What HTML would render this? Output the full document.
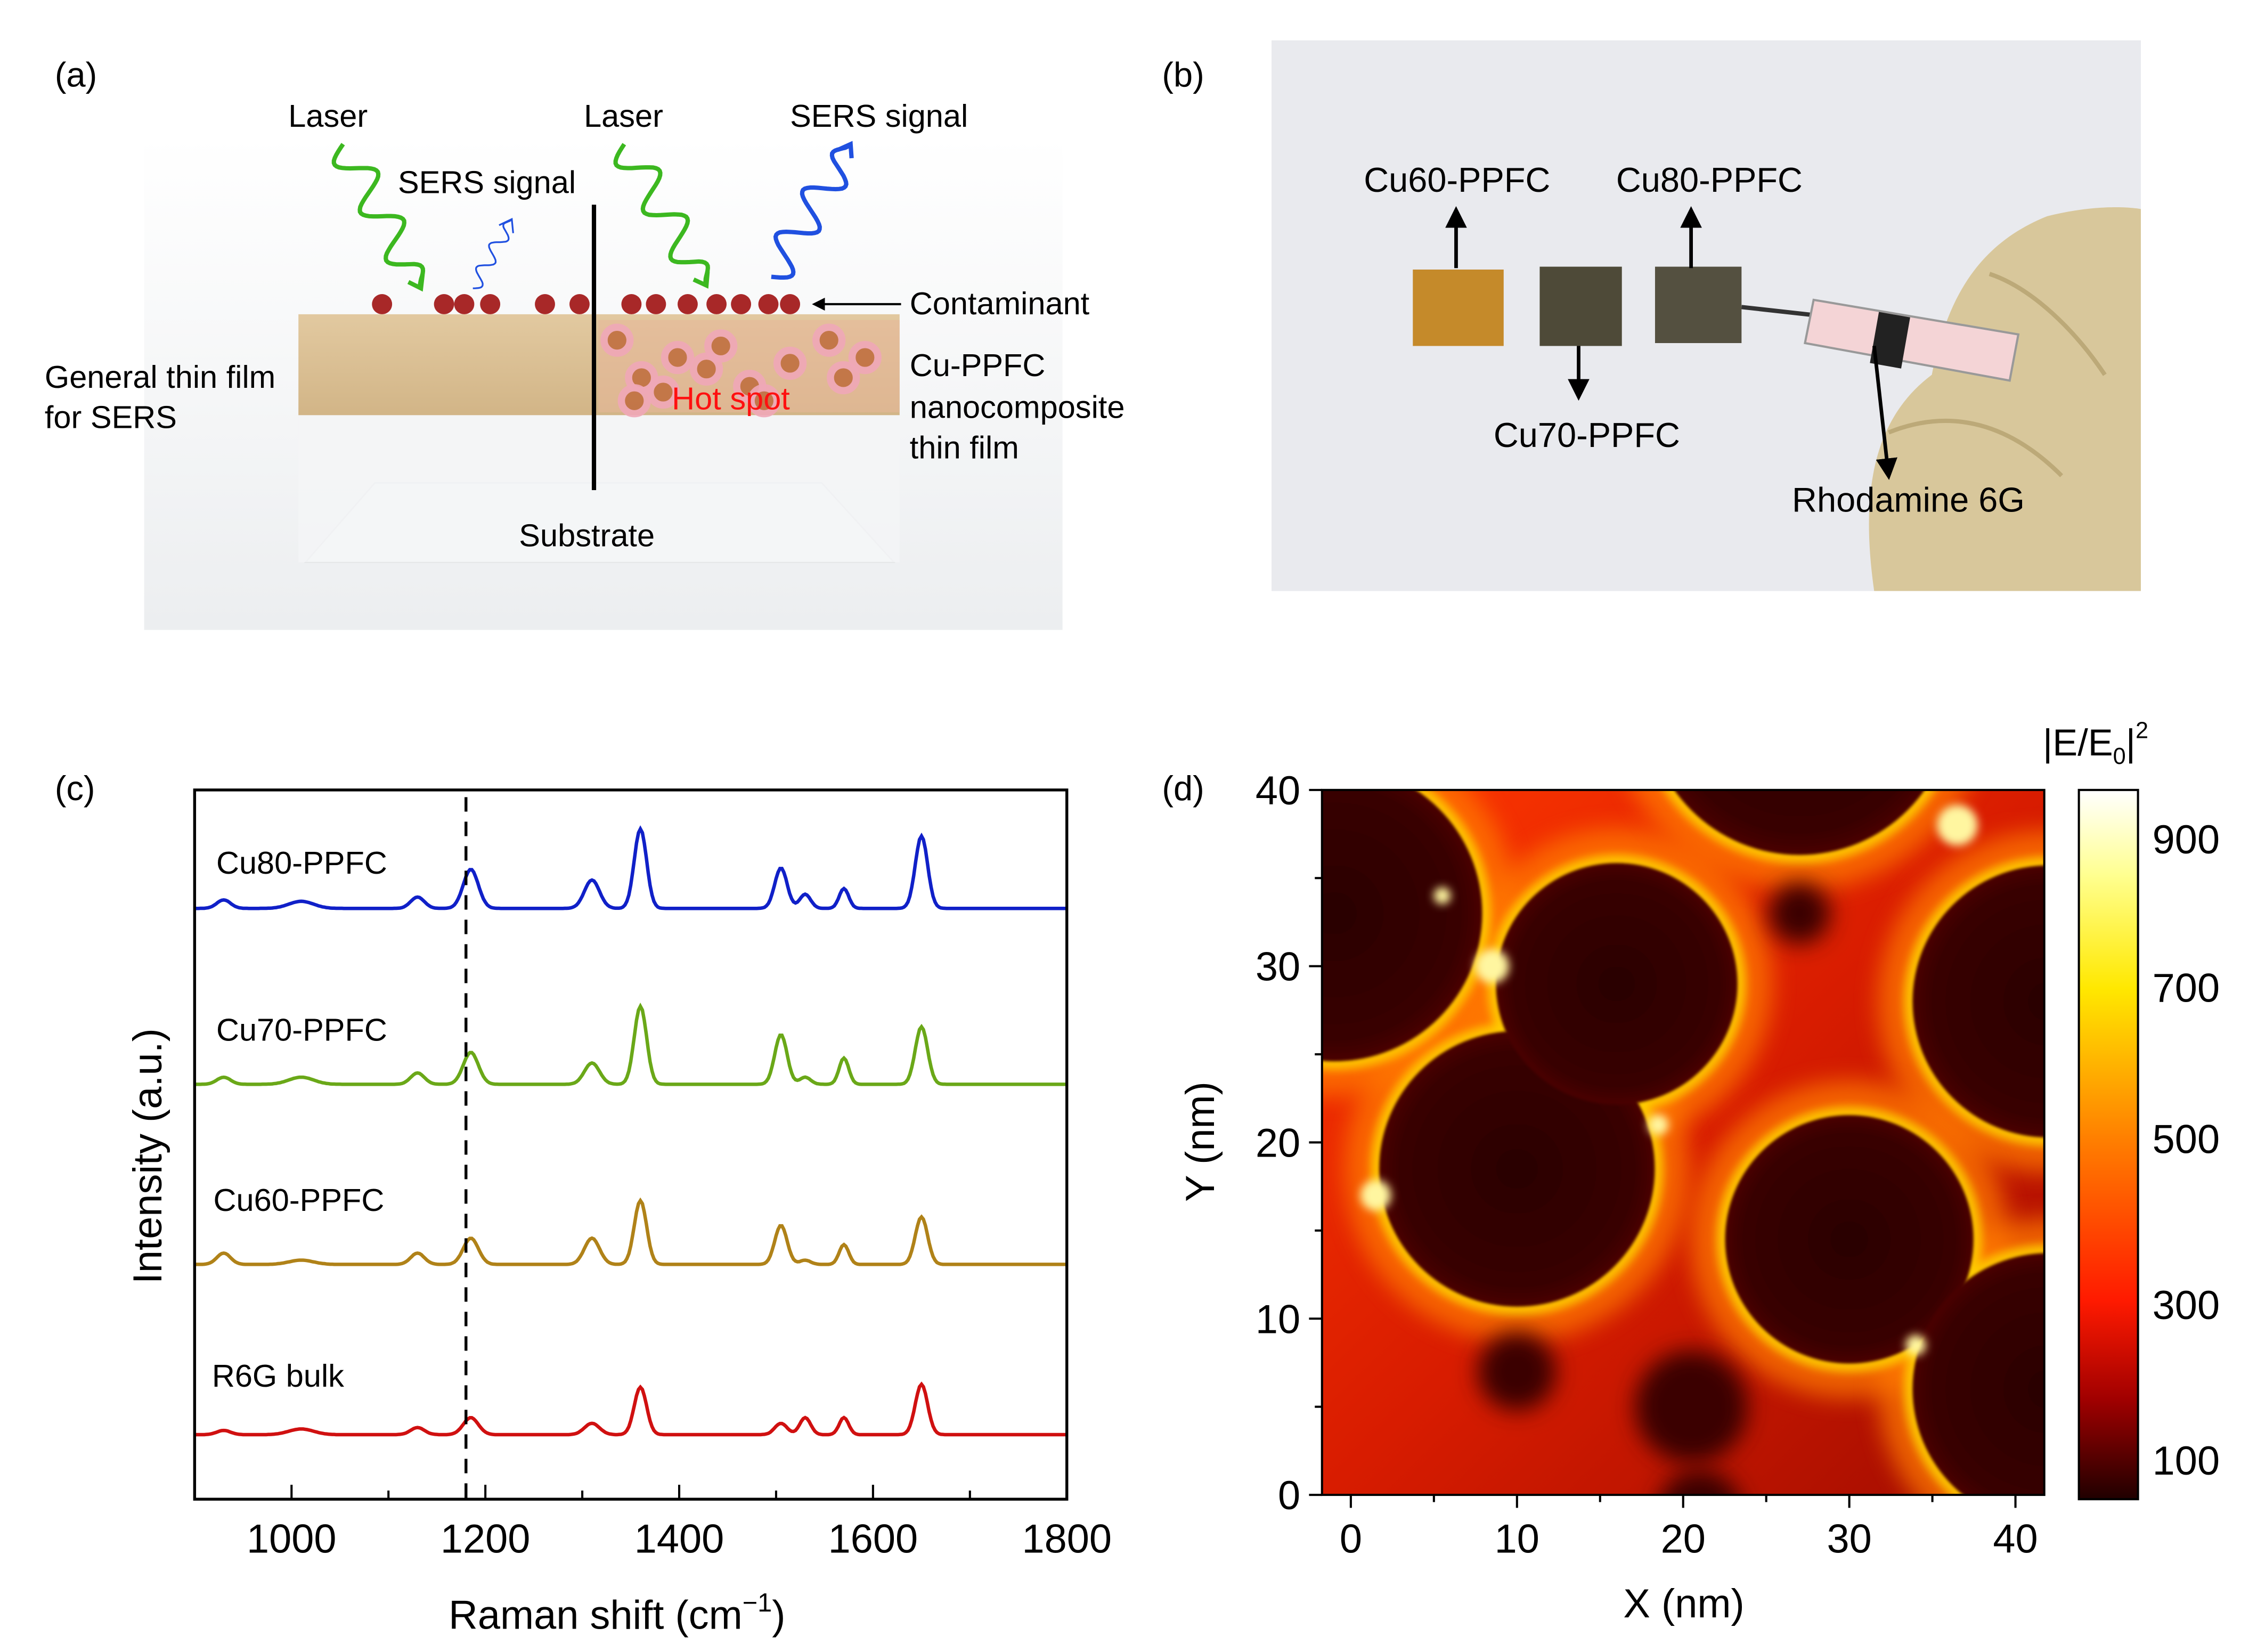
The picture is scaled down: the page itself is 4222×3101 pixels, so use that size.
<!DOCTYPE html>
<html><head><meta charset="utf-8"><style>
html,body{margin:0;padding:0;background:#fff;}
svg{display:block;font-family:"Liberation Sans",Arial,sans-serif;}
</style></head><body>
<svg id="fig" width="4222" height="3101" viewBox="0 0 1560 1146" preserveAspectRatio="none" xmlns="http://www.w3.org/2000/svg">
<defs>
<linearGradient id="bgA" x1="0" y1="0" x2="0" y2="1"><stop offset="0" stop-color="#fff"/><stop offset="1" stop-color="#eceef0"/></linearGradient>
<linearGradient id="film" x1="0" y1="0" x2="0" y2="1"><stop offset="0" stop-color="#e2c9a0"/><stop offset="1" stop-color="#d2b587"/></linearGradient>
<linearGradient id="cbar" x1="0" y1="0" x2="0" y2="1">
<stop offset="0" stop-color="#ffffff"/><stop offset="0.12" stop-color="#ffff90"/><stop offset="0.28" stop-color="#ffe800"/><stop offset="0.49" stop-color="#ff8000"/><stop offset="0.72" stop-color="#ff1a00"/><stop offset="0.86" stop-color="#a00000"/><stop offset="1" stop-color="#200000"/></linearGradient>
<linearGradient id="hmbg" x1="0" y1="0" x2="1" y2="1"><stop offset="0" stop-color="#ff3800"/><stop offset="0.5" stop-color="#d81c00"/><stop offset="1" stop-color="#a00c00"/></linearGradient>
<radialGradient id="dark" cx="0.5" cy="0.5" r="0.5"><stop offset="0" stop-color="#2a0000"/><stop offset="0.85" stop-color="#380000"/><stop offset="1" stop-color="#4a0200"/></radialGradient>
<filter id="blur6" x="-50%" y="-50%" width="200%" height="200%"><feGaussianBlur stdDeviation="8"/></filter>
<filter id="blur3" x="-50%" y="-50%" width="200%" height="200%"><feGaussianBlur stdDeviation="3"/></filter>
<filter id="blur1"><feGaussianBlur stdDeviation="1"/></filter>
<clipPath id="hmclip"><rect x="917" y="548" width="501" height="489"/></clipPath>
<marker id="ah" viewBox="0 0 10 10" refX="8" refY="5" markerWidth="6" markerHeight="6" orient="auto"><path d="M0,0L10,5L0,10z" fill="#000"/></marker>
</defs>

<!-- Panel a -->
<g>
<text x="38" y="60" font-size="24">(a)</text>
<rect x="100" y="95" width="637" height="342" fill="url(#bgA)"/>
<polygon points="212,390 620,390 570,335 260,335" fill="#f6f7f8" stroke="#e0e2e4"/>
<rect x="207" y="288" width="417" height="102" fill="#f4f5f6" opacity="0.8"/>
<rect x="207" y="218" width="417" height="70" fill="url(#film)"/>
<rect x="415" y="222" width="209" height="64" fill="#e6b79a" opacity="0.6"/>
<g id="np"></g>
<line x1="412" y1="142" x2="412" y2="340" stroke="#000" stroke-width="3"/>
<path id="w1" fill="none" stroke="#3cb820" stroke-width="3"/>
<path id="w2" fill="none" stroke="#3cb820" stroke-width="3"/>
<path id="w3" fill="none" stroke="#2050e0" stroke-width="3"/>
<path id="w4" fill="none" stroke="#2050e0" stroke-width="1.2"/>
<line x1="625" y1="211" x2="565" y2="211" stroke="#000" stroke-width="1.5" marker-end="url(#ah)"/>
<g font-size="22" fill="#000">
<text x="200" y="88">Laser</text>
<text x="405" y="88">Laser</text>
<text x="548" y="88">SERS signal</text>
<text x="276" y="134">SERS signal</text>
<text x="631" y="218">Contaminant</text>
<text x="631" y="261">Cu-PPFC</text>
<text x="631" y="290">nanocomposite</text>
<text x="631" y="318">thin film</text>
<text x="31" y="269">General thin film</text>
<text x="31" y="297">for SERS</text>
<text x="360" y="379">Substrate</text>
<text x="466" y="284" fill="#ff1010">Hot spot</text>
</g>
</g>

<!-- Panel b -->
<g>
<text x="806" y="60" font-size="24">(b)</text>
<rect x="882" y="28" width="603" height="382" fill="#e9eaee"/>
<path d="M1300,410 C1290,340 1300,290 1340,260 C1350,210 1370,170 1420,150 C1460,140 1485,145 1485,145 L1485,410 Z" fill="#d8c79b"/>
<path d="M1310,300 C1360,280 1400,300 1430,330" fill="none" stroke="#bca978" stroke-width="3"/>
<path d="M1380,190 C1410,200 1440,230 1460,260" fill="none" stroke="#bca978" stroke-width="3"/>
<g>
<line x1="1208" y1="213" x2="1262" y2="219" stroke="#333" stroke-width="3"/>
<polygon points="1258,208 1400,232 1394,264 1252,238" fill="#f4d4d6" stroke="#999" stroke-width="1.5"/>
<rect x="1300" y="218" width="22" height="36" fill="#222" transform="rotate(10 1311 236)"/>
</g>
<rect x="980" y="187" width="63" height="53" fill="#c58a2a"/>
<rect x="1068" y="185" width="57" height="55" fill="#4e4a38"/>
<rect x="1148" y="185" width="60" height="53" fill="#545040"/>
<g stroke="#000" stroke-width="2.5">
<line x1="1010" y1="186" x2="1010" y2="146" marker-end="url(#ah)"/>
<line x1="1173" y1="186" x2="1173" y2="146" marker-end="url(#ah)"/>
<line x1="1095" y1="240" x2="1095" y2="275" marker-end="url(#ah)"/>
<line x1="1300" y1="240" x2="1310" y2="330" marker-end="url(#ah)"/>
</g>
<g font-size="24" fill="#000">
<text x="946" y="133">Cu60-PPFC</text>
<text x="1121" y="133">Cu80-PPFC</text>
<text x="1036" y="310">Cu70-PPFC</text>
<text x="1243" y="355">Rhodamine 6G</text>
</g>
</g>

<!-- Panel c -->
<g>
<text x="38" y="555" font-size="24">(c)</text>
<g id="spec"></g>
<rect x="135" y="548" width="605" height="492" fill="none" stroke="#000" stroke-width="2"/>
<text transform="translate(112,802) rotate(-90)" text-anchor="middle" font-size="28">Intensity (a.u.)</text>
<text x="428" y="1130" text-anchor="middle" font-size="28">Raman shift (cm<tspan dy="-12" font-size="18">−1</tspan><tspan dy="12">)</tspan></text>
</g>

<!-- Panel d -->
<g>
<text x="806" y="555" font-size="24">(d)</text>
<g clip-path="url(#hmclip)">
<rect x="917" y="548" width="501" height="489" fill="url(#hmbg)"/>
<g id="hmglow"></g>
<g id="hmdark"></g>
<g id="hmspots"></g>
</g>
<rect x="917" y="548" width="501" height="489" fill="none" stroke="#000" stroke-width="1.5"/>
<g id="hmaxes"></g>
<text x="1168" y="1122" text-anchor="middle" font-size="28">X (nm)</text>
<text transform="translate(842,792) rotate(-90)" text-anchor="middle" font-size="28">Y (nm)</text>
<rect x="1442" y="548" width="41" height="492" fill="url(#cbar)" stroke="#000" stroke-width="1.5"/>
<g id="cbticks"></g>
<text x="1417" y="524" font-size="26">|E/E<tspan font-size="16" dy="6">0</tspan><tspan dy="-6">|</tspan><tspan font-size="16" dy="-12">2</tspan></text>
</g>
</svg>
<script>
// ---------- Panel (c) data ----------
const peakPos   = [930, 1010, 1130, 1185, 1310, 1360, 1505, 1530, 1570, 1650];
const peakWidth = [10, 18, 10, 11, 11, 9, 9, 8, 7, 9];
const seriesNames = ["Cu80-PPFC", "Cu70-PPFC", "Cu60-PPFC", "R6G bulk"];
const cu80Amp = [1.2, 1.0, 1.6, 5.5, 4.0, 11.2, 5.7, 2.0, 2.8, 10.2];
const cu70Amp = [1.0, 1.0, 1.6, 4.5, 3.0, 11.0, 7.0, 1.0, 3.7, 8.1];
const cu60Amp = [1.6, 0.6, 1.6, 3.7, 3.7, 9.0, 5.5, 0.6, 2.8, 6.7];
const r6gAmp  = [0.6, 0.8, 1.0, 2.4, 1.6, 6.7, 1.6, 2.4, 2.4, 7.1];
const baselines = [83.3, 58.5, 33.1, 9.1];
const xTicks = [1000, 1200, 1400, 1600, 1800];
const dashedAt = 1180;

// ---------- Panel (d) data (nm) ----------
const circX = [10, 16, 27, -1, 42, 30, 42];
const circY = [18.5, 29, 45, 33, 28, 14.5, 6];
const circR = [8.1, 7.1, 9, 8.7, 8, 7.3, 8];
const spotX = [10, 20.5, 27, 21];
const spotY = [7, 5, 33, -1];
const spotR = [2.3, 3.3, 1.8, 2.5];
const hotX = [18.5, 34, 5.5, 1.5, 8.5, 36.5];
const hotY = [21, 8.5, 34, 17, 30, 38];
const hotR = [0.6, 0.6, 0.5, 0.9, 1.0, 1.2];
const hmTicks = [0, 10, 20, 30, 40];
const cbValues = [100, 300, 500, 700, 900];
const cbY = [1013, 905, 790, 685, 582];

const NS = "http://www.w3.org/2000/svg";
function mk(tag, attrs, parent){const e=document.createElementNS(NS,tag);for(const k in attrs)e.setAttribute(k,attrs[k]);parent.appendChild(e);return e;}

const sx = v => 135 + (v - 900) / 900 * 605;
const sy = v => 1040 - v / 100 * 492;
const hx = v => 937 + v * 11.525;
const hy = v => 1037 - v * 12.225;
const hr = v => v * 11.8;

// Spectra
const spec = document.getElementById("spec");
const colors = ["#1020c8", "#6aa818", "#b08218", "#d01010"];
const amps = [cu80Amp, cu70Amp, cu60Amp, r6gAmp];
const labelY = [606, 722, 840, 962];
const labelX = [150, 150, 148, 147];
for (let s = 0; s < 4; s++) {
  let d = "";
  for (let x = 900; x <= 1800; x += 2) {
    let v = baselines[s];
    for (let p = 0; p < peakPos.length; p++) v += amps[s][p] * Math.exp(-Math.pow((x - peakPos[p]) / peakWidth[p], 2));
    d += (x === 900 ? "M" : "L") + sx(x).toFixed(1) + "," + sy(v).toFixed(1);
  }
  const path = mk("path", {d: d, fill: "none", stroke: colors[s], "stroke-width": 2.4}, spec);
  
  
  const t = mk("text", {x: labelX[s], y: labelY[s], "font-size": 22}, spec);
  t.textContent = seriesNames[s];
  
  
}
const dl = mk("line", {x1: sx(dashedAt), x2: sx(dashedAt), y1: 553, y2: 1040, stroke: "#000", "stroke-width": 2, "stroke-dasharray": "10,7"}, spec);


for (let x = 1000; x <= 1800; x += 100) {
  const major = xTicks.includes(x);
  const tk = mk("line", {x1: sx(x), x2: sx(x), y1: 1040, y2: 1040 - (major ? 10 : 6), stroke: "#000", "stroke-width": 1.5}, spec);
  
  
}
xTicks.forEach(v => {
  const t = mk("text", {x: sx(v), y: 1077, "text-anchor": "middle", "font-size": 28}, spec);
  t.textContent = v;
  
  
});

// Heatmap
const glow = document.getElementById("hmglow"), dark = document.getElementById("hmdark"), spots = document.getElementById("hmspots");
for (let i = 0; i < circX.length; i++) {
  const g1 = mk("circle", {cx: hx(circX[i]), cy: hy(circY[i]), r: hr(circR[i]) + 24, fill: "#ff7a00", opacity: 0.75, filter: "url(#blur6)"}, glow);
  
  
}
for (let i = 0; i < circX.length; i++) {
  const g2 = mk("circle", {cx: hx(circX[i]), cy: hy(circY[i]), r: hr(circR[i]) + 6, fill: "#ffd000", opacity: 0.85, filter: "url(#blur3)"}, glow);
  
  
}
for (let i = 0; i < circX.length; i++) {
  const c = mk("circle", {cx: hx(circX[i]), cy: hy(circY[i]), r: hr(circR[i]), fill: "url(#dark)", filter: "url(#blur1)"}, dark);
  
  
}
for (let i = 0; i < spotX.length; i++) {
  const c = mk("circle", {cx: hx(spotX[i]), cy: hy(spotY[i]), r: hr(spotR[i]), fill: "#3a0000", filter: "url(#blur6)"}, spots);
  
  
}
for (let i = 0; i < hotX.length; i++) {
  const c = mk("circle", {cx: hx(hotX[i]), cy: hy(hotY[i]), r: hr(hotR[i]), fill: "#fff6a0", filter: "url(#blur3)"}, spots);
  
  
}
const hax = document.getElementById("hmaxes");
for (let v = 0; v <= 40; v += 5) {
  const major = hmTicks.includes(v);
  const a = mk("line", {x1: hx(v), x2: hx(v), y1: 1037, y2: 1037 + (major ? 9 : 5), stroke: "#000", "stroke-width": 1.5}, hax);
  
  
  const b = mk("line", {x1: 917, x2: 917 - (major ? 9 : 5), y1: hy(v), y2: hy(v), stroke: "#000", "stroke-width": 1.5}, hax);
  
  
}
hmTicks.forEach(v => {
  const t1 = mk("text", {x: hx(v), y: 1077, "text-anchor": "middle", "font-size": 28}, hax);
  t1.textContent = v;
  
  
  const t2 = mk("text", {x: 902, y: hy(v) + 10, "text-anchor": "end", "font-size": 28}, hax);
  t2.textContent = v;
  
  
});
const cbt = document.getElementById("cbticks");
cbValues.forEach((v, i) => {
  const t = mk("text", {x: 1493, y: cbY[i] + 10, "font-size": 28}, cbt);
  t.textContent = v;
  
  
});

// Panel (a) nanoparticles and waves
const np = document.getElementById("np");
const npX = [265, 308, 322, 340, 378, 402, 438, 455, 477, 497, 514, 533, 548];
npX.forEach(x => {
  const c = mk("circle", {cx: x, cy: 211, r: 7, fill: "#a82828"}, np);
  
  
});
const inX = [428, 445, 470, 500, 520, 548, 575, 440, 490, 530, 585, 600, 460];
const inY = [236, 262, 248, 240, 268, 252, 236, 278, 256, 278, 262, 248, 272];
inX.forEach((x, i) => {
  const c = mk("circle", {cx: x, cy: inY[i], r: 9, fill: "#c07040", stroke: "#f0a8b8", "stroke-width": 5, opacity: 0.9}, np);
  
  
});
function wave(id, x1, y1, x2, y2, amp, n){
  const dx = x2 - x1, dy = y2 - y1, L = Math.hypot(dx, dy), ux = dx / L, uy = dy / L;
  let d = "";
  for (let i = 0; i <= 80; i++) {
    const t = i / 80, s = Math.sin(t * n * 2 * Math.PI) * amp * (t < 0.85 ? 1 : (1 - t) / 0.15);
    const px = x1 + dx * t - uy * s, py = y1 + dy * t + ux * s;
    d += (i ? "L" : "M") + px.toFixed(1) + "," + py.toFixed(1);
  }
  const ah = 8;
  d += "M" + (x2 - ux * ah - uy * ah * 0.7) + "," + (y2 - uy * ah + ux * ah * 0.7) + "L" + x2 + "," + y2 + "L" + (x2 - ux * ah + uy * ah * 0.7) + "," + (y2 - uy * ah - ux * ah * 0.7);
  document.getElementById(id).setAttribute("d", d);
}
wave("w1", 238, 100, 292, 200, 12, 3);
wave("w2", 433, 100, 490, 198, 12, 3);
wave("w3", 535, 192, 590, 100, 12, 3);
wave("w4", 328, 200, 355, 152, 5, 3);
</script>
</body></html>
